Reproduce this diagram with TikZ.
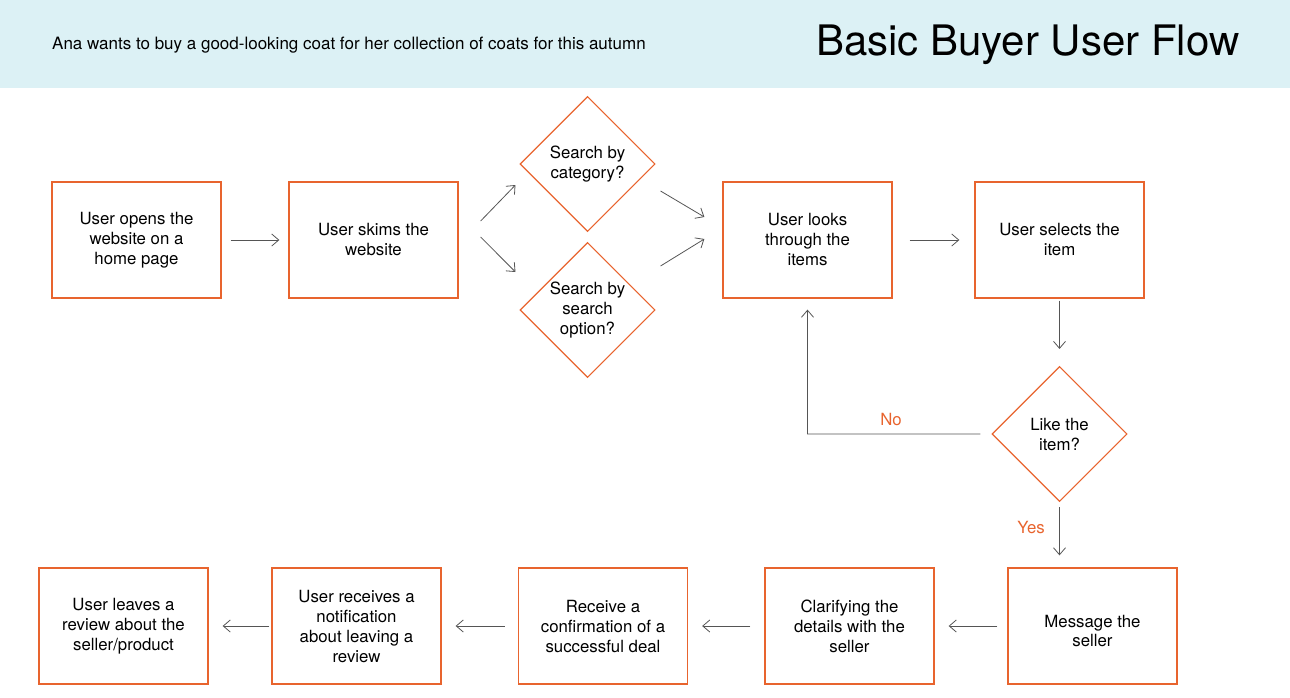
\documentclass[tikz,border=0pt]{standalone}
\usepackage{fontspec}
\setmainfont{TeX Gyre Heros}
\usetikzlibrary{arrows.meta,shapes.geometric,calc}
\definecolor{flowcolor}{HTML}{E8642E}
\definecolor{headcolor}{HTML}{DCF1F5}
\definecolor{linkcolor}{HTML}{555555}
\tikzset{
  flow step/.style={draw=flowcolor,line width=1.3pt,minimum width=169,minimum height=116,
    align=center,inner sep=0pt,font=\fontsize{16.8}{20}\selectfont},
  flow choice/.style={draw=flowcolor,line width=1.1pt,diamond,aspect=1,minimum width=135,
    minimum height=135,inner sep=0pt,align=center,font=\fontsize{16.8}{20}\selectfont},
  flow link/.style={linkcolor,line width=.8pt,-{Straight Barb[length=7pt,width=12pt]}},
  flow label/.style={text=flowcolor,font=\fontsize{16.8}{20}\selectfont}
}
\begin{document}
\begin{tikzpicture}[x=1pt,y=-1pt]
  \useasboundingbox (0,0) rectangle (1290,698);
  \fill[headcolor] (0,0) rectangle (1290,88);
  \node[anchor=west,inner sep=0pt,font=\fontsize{17}{19}\selectfont] (story) at (52,45)
    {Ana wants to buy a good-looking coat for her collection of coats for this autumn};
  \node[anchor=west,inner sep=0pt,font=\fontsize{42}{46}\selectfont] (title) at (816,45) {Basic Buyer User Flow};
  % top row
  \node[flow step] (open) at (136.5,240) {User opens the\\website on a\\home page};
  \node[flow step] (skim) at (373.5,240) {User skims the\\website};
  \node[flow choice] (category) at (587.5,164) {Search by\\category?};
  \node[flow choice] (search) at (587.5,310) {Search by\\search\\option?};
  \node[flow step] (items) at (807.5,240) {User looks\\through the\\items};
  \node[flow step] (select) at (1059.5,240) {User selects the\\item};
  \node[flow choice] (like) at (1059.5,434) {Like the\\item?};
  % bottom row
  \node[flow step] (message) at (1092.5,626) {\raisebox{-20pt}[0pt][0pt]{\shortstack{Message the\\seller}}};
  \node[flow step] (clarify) at (849.5,626) {Clarifying the\\details with the\\seller};
  \node[flow step] (confirm) at (603,626) {Receive a\\confirmation of a\\successful deal};
  \node[flow step] (notify) at (356.5,626) {User receives a\\notification\\about leaving a\\review};
  \node[flow step] (review) at (123.5,626) {User leaves a\\review about the\\seller/product};
  % connector ends
  \coordinate (skim up) at ($(skim.east)+(22,-19)$);
  \coordinate (category in) at ($(category.west)+(-4,21)$);
  \coordinate (skim down) at ($(skim.east)+(22,-3)$);
  \coordinate (search in) at ($(search.west)+(-4,-38)$);
  \coordinate (category out) at ($(category.east)+(5,27)$);
  \coordinate (search out) at ($(search.east)+(5,-44)$);
  \coordinate (items top in) at ($(items.west)+(-18,-23)$);
  \coordinate (items low in) at ($(items.west)+(-18,-1)$);
  \coordinate (no turn) at ($(like.west)+(-184,0)$);
  \draw[flow link,shorten <=9,shorten >=9] (open) -- (skim);
  \draw[flow link] (skim up) -- (category in);
  \draw[flow link] (skim down) -- (search in);
  \draw[flow link] (category out) -- (items top in);
  \draw[flow link] (search out) -- (items low in);
  \draw[flow link,shorten <=17,shorten >=15] (items) -- (select);
  \draw[flow link,shorten <=2,shorten >=17] (select) -- (like);
  \draw[flow link,shorten <=11] (like.west) -- (no turn) -- ($(items.south)+(0,11)$);
  \node[flow label] (no) at (891,419) {No};
  \draw[flow link,shorten <=5,shorten >=12] (like) -- (like |- message.north);
  \node[flow label] (yes) at (1031,527) {Yes};
  \draw[flow link,shorten <=10,shorten >=14] (message) -- (clarify);
  \draw[flow link,shorten <=14,shorten >=14] (clarify) -- (confirm);
  \draw[flow link,shorten <=13,shorten >=14] (confirm) -- (notify);
  \draw[flow link,shorten <=2,shorten >=14] (notify) -- (review);
\end{tikzpicture}
\end{document}
